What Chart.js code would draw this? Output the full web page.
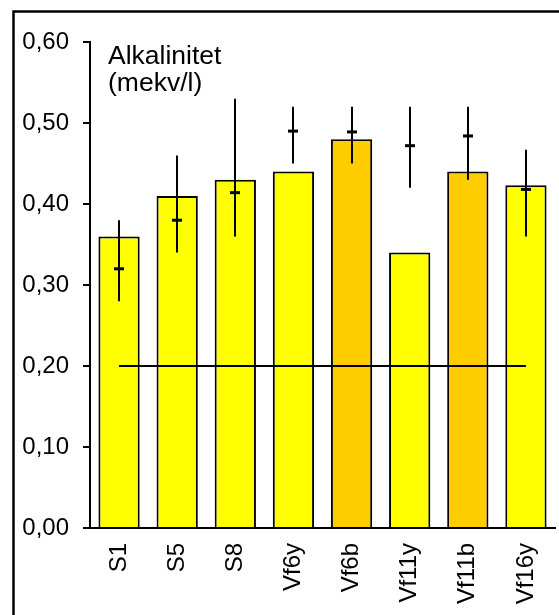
<!DOCTYPE html>
<html>
<head>
<meta charset="utf-8">
<script src="https://cdn.jsdelivr.net/npm/chart.js@4"></script>
<style>
  html, body { margin: 0; padding: 0; background: #fff; }
  #wrap { width: 559px; height: 615px; }
</style>
</head>
<body>
<div id="wrap"><canvas id="alkChart" width="559" height="615"></canvas></div>
<script>
const sites = ["S1", "S5", "S8", "Vf6y", "Vf6b", "Vf11y", "Vf11b", "Vf16y"];
const barValues = [0.36, 0.41, 0.43, 0.44, 0.48, 0.34, 0.44, 0.423];
const barColors = ["#FFFF00", "#FFFF00", "#FFFF00", "#FFFF00", "#FFCC00", "#FFFF00", "#FFCC00", "#FFFF00"];
const errHigh = [0.38, 0.46, 0.53, 0.52, 0.52, 0.52, 0.52, 0.467];
const errLow = [0.28, 0.34, 0.36, 0.45, 0.45, 0.42, 0.43, 0.36];
const errMean = [0.32, 0.38, 0.414, 0.49, 0.489, 0.472, 0.484, 0.418];
const limitLine = [0.2, 0.2, 0.2, 0.2, 0.2, 0.2, 0.2, 0.2];
const titleLines = ["Alkalinitet", "(mekv/l)"];

const FONT = "'Liberation Sans', Arial, sans-serif";

// frame around the whole figure
const framePlugin = {
  id: "frame",
  beforeDraw(chart) {
    const ctx = chart.ctx;
    ctx.save();
    ctx.strokeStyle = "#000";
    ctx.lineWidth = 2.5;
    ctx.strokeRect(13.5, 11.5, 700, 800);
    ctx.restore();
  }
};

// min/max whiskers plus mean tick
const errorPlugin = {
  id: "errors",
  afterDatasetsDraw(chart) {
    const ctx = chart.ctx;
    const x = chart.scales.x, y = chart.scales.y;
    ctx.save();
    ctx.strokeStyle = "#000";
    errHigh.forEach((hi, i) => {
      const cx = Math.round(x.getPixelForValue(i));
      ctx.lineWidth = 2;
      ctx.beginPath();
      ctx.moveTo(cx, y.getPixelForValue(hi));
      ctx.lineTo(cx, y.getPixelForValue(errLow[i]));
      ctx.stroke();
      const my = y.getPixelForValue(errMean[i]);
      ctx.lineWidth = 3;
      ctx.beginPath();
      ctx.moveTo(cx - 5, my);
      ctx.lineTo(cx + 5, my);
      ctx.stroke();
    });
    ctx.restore();
  }
};

const titlePlugin = {
  id: "innerTitle",
  afterDraw(chart) {
    const ctx = chart.ctx;
    const area = chart.chartArea;
    ctx.save();
    ctx.fillStyle = "#000";
    ctx.font = "26.5px " + FONT;
    ctx.textBaseline = "alphabetic";
    ctx.fillText(titleLines[0], area.left + 18, area.top + 22);
    ctx.fillText(titleLines[1], area.left + 18, area.top + 49);
    ctx.restore();
  }
};

new Chart(document.getElementById("alkChart"), {
  type: "bar",
  data: {
    labels: sites,
    datasets: [
      {
        type: "line",
        data: limitLine,
        borderColor: "#000",
        borderWidth: 2,
        pointRadius: 0,
        fill: false,
        order: 0
      },
      {
        data: barValues,
        backgroundColor: barColors,
        borderColor: "#000",
        borderWidth: 2,
        barPercentage: 1,
        categoryPercentage: 0.71,
        order: 1
      }
    ]
  },
  options: {
    responsive: false,
    animation: false,
    devicePixelRatio: 1,
    layout: { padding: { left: 0, top: 42, right: 4, bottom: 0 } },
    plugins: { legend: { display: false }, tooltip: { enabled: false } },
    scales: {
      x: {
        grid: { display: true, drawOnChartArea: false, drawTicks: false },
        border: { display: true, color: "#000", width: 2 },
        ticks: {
          color: "#000",
          font: { family: FONT, size: 24 },
          maxRotation: 90,
          minRotation: 90,
          autoSkip: false,
          padding: 15
        },
        afterFit(scale) {
          scale.height = 87;
          scale.paddingLeft = 0;
          scale.paddingRight = 0;
        }
      },
      y: {
        min: 0,
        max: 0.6,
        grid: { display: true, drawOnChartArea: false, tickLength: 7, color: "#000", lineWidth: 2 },
        border: { display: true, color: "#000", width: 2 },
        ticks: {
          stepSize: 0.1,
          color: "#000",
          padding: 14,
          font: { family: FONT, size: 24 },
          callback: v => v.toFixed(2).replace(".", ",")
        },
        afterFit(scale) {
          scale.width = 90;
        }
      }
    }
  },
  plugins: [framePlugin, errorPlugin, titlePlugin]
});
</script>
</body>
</html>
